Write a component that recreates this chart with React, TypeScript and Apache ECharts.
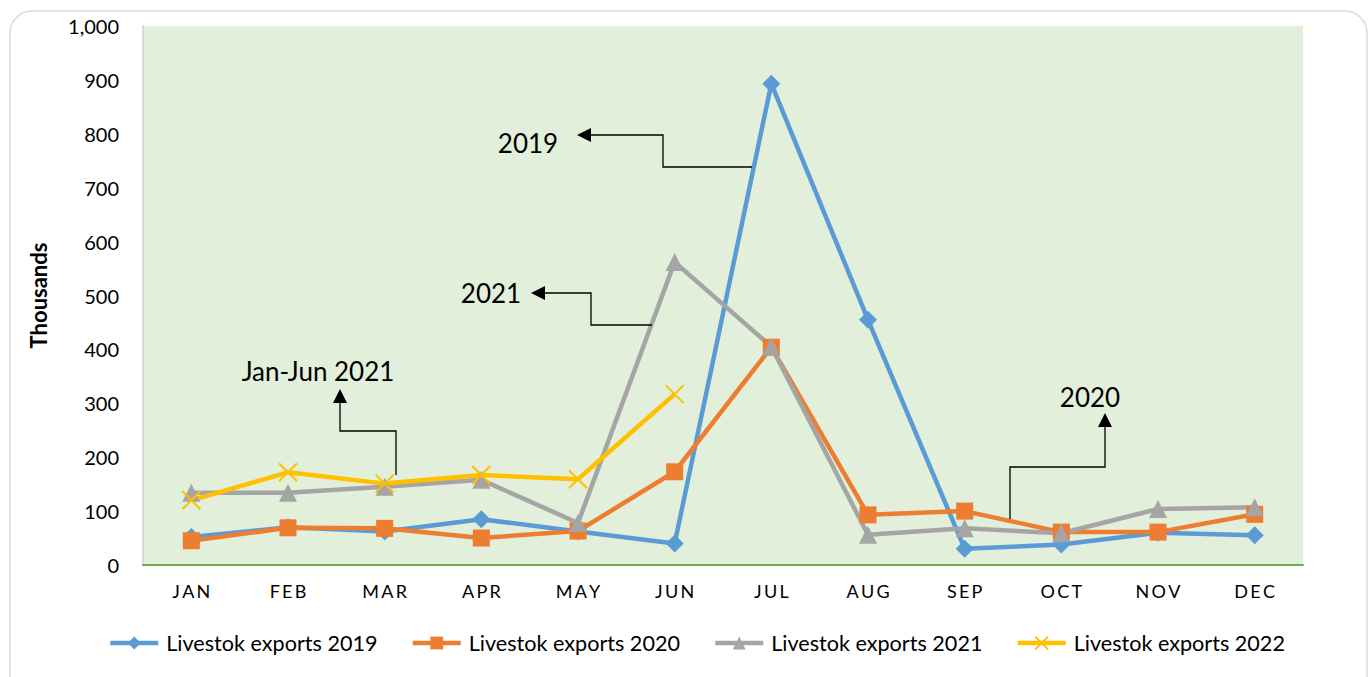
import React, { useEffect, useRef } from "react";
import * as echarts from "echarts";

const months = ["JAN", "FEB", "MAR", "APR", "MAY", "JUN", "JUL", "AUG", "SEP", "OCT", "NOV", "DEC"];
const exports2019 = [52, 70, 62, 85, 62, 40, 893, 455, 30, 38, 60, 55];
const exports2020 = [45, 69, 68, 50, 63, 173, 404, 93, 100, 61, 61, 94];
const exports2021 = [134, 134, 145, 158, 78, 562, 405, 56, 68, 59, 104, 107];
const exports2022 = [120, 172, 151, 167, 159, 317];
const seriesNames = ["Livestok exports 2019", "Livestok exports 2020", "Livestok exports 2021", "Livestok exports 2022"];
const yTicks = { min: 0, max: 1000, interval: 100 };

const FONT = "Lato, 'Open Sans', sans-serif";

function lineSeries(name: string, data: number[], color: string, symbol: string, size: number) {
  const isPath = symbol.startsWith("path");
  return {
    name,
    type: "line",
    data,
    symbol,
    symbolSize: size,
    lineStyle: { color, width: 4.5 },
    itemStyle: { color, borderColor: color, borderWidth: isPath ? 2 : 0 },
    emphasis: { disabled: true },
  };
}

function annotText(text: string, x: number, y: number) {
  return {
    type: "text",
    x,
    y,
    z: 100,
    style: { text, fill: "#000", font: `26px ${FONT}`, align: "center", verticalAlign: "middle" },
  };
}
function annotLine(points: number[][]) {
  return { type: "polyline", z: 100, shape: { points }, style: { stroke: "#000", lineWidth: 1.3, fill: "none" } };
}
function arrow(points: number[][]) {
  return { type: "polygon", z: 100, shape: { points }, style: { fill: "#000" } };
}

export default function App() {
  const ref = useRef<HTMLDivElement>(null);
  useEffect(() => {
    document.body.style.margin = "0";
    const chart = echarts.init(ref.current!, null, { renderer: "svg" });
    chart.setOption({
      animation: false,
      backgroundColor: "#fff",
      grid: { left: 143, right: 65, top: 26, bottom: 112, show: true, backgroundColor: "#E2EFDA", borderWidth: 0 },
      legend: {
        bottom: 18,
        left: 103,
        itemWidth: 48,
        itemHeight: 16,
        itemGap: 33,
        lineStyle: { width: 4.5 },
        textStyle: { fontFamily: FONT, fontSize: 21.6, color: "#000", padding: [0, 0, 0, 3] },
        data: seriesNames,
      },
      xAxis: {
        type: "category",
        data: months,
        boundaryGap: true,
        axisLine: { lineStyle: { color: "#70AD47", width: 2 } },
        axisTick: { show: false },
        axisLabel: {
          margin: 17,
          fontFamily: FONT,
          fontSize: 18,
          color: "#000",
          formatter: (v: string) => v.split("").join("\u2009"),
        },
      },
      yAxis: {
        type: "value",
        min: yTicks.min,
        max: yTicks.max,
        interval: yTicks.interval,
        name: "Thousands",
        nameLocation: "middle",
        nameGap: 94,
        nameRotate: 90,
        nameTextStyle: { fontFamily: FONT, fontSize: 22, fontWeight: "bold", color: "#000" },
        axisLine: { show: true, lineStyle: { color: "#D9D9D9", width: 2 } },
        axisTick: { show: false },
        splitLine: { show: false },
        axisLabel: {
          margin: 24,
          fontFamily: FONT,
          fontSize: 20,
          color: "#000",
          formatter: (v: number) => v.toLocaleString("en-US"),
        },
      },
      series: [
        lineSeries(seriesNames[0], exports2019, "#5B9BD5", "diamond", 18),
        lineSeries(seriesNames[1], exports2020, "#ED7D31", "rect", 17),
        lineSeries(seriesNames[2], exports2021, "#A5A5A5", "triangle", 18),
        lineSeries(seriesNames[3], exports2022, "#FFC000", "path://M0,0L10,10M10,0L0,10", 18),
      ],
      graphic: [
        {
          type: "rect",
          z: -10,
          shape: { x: 10, y: 11, width: 1357, height: 700, r: 22 },
          style: { fill: "none", stroke: "#D9D9D9", lineWidth: 1.5 },
        },
        annotText("2019", 528, 143),
        arrow([[577, 135], [591, 128], [591, 142]]),
        annotLine([[591, 135], [663, 135], [663, 167], [752, 167]]),
        annotText("2021", 491, 293),
        arrow([[531, 293], [545, 286], [545, 300]]),
        annotLine([[545, 293], [591, 293], [591, 325], [652, 325]]),
        annotText("Jan-Jun 2021", 318, 371),
        arrow([[340, 389], [333, 403], [347, 403]]),
        annotLine([[340, 403], [340, 431], [396, 431], [396, 475]]),
        annotText("2020", 1090, 397),
        arrow([[1105, 413], [1098, 427], [1112, 427]]),
        annotLine([[1105, 427], [1105, 467], [1010, 467], [1010, 519]]),
      ],
    });
    return () => chart.dispose();
  }, []);
  return <div ref={ref} style={{ width: 1368, height: 677 }} />;
}
